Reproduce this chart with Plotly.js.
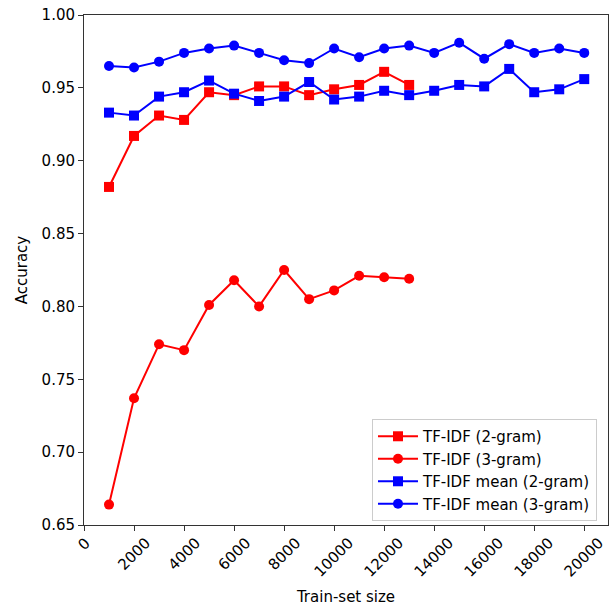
<!DOCTYPE html>
<html>
<head>
<meta charset="utf-8">
<script src="https://cdn.plot.ly/plotly-3.0.1.min.js"></script>
<style>html,body{margin:0;padding:0;background:#fff;}#chart{width:611px;height:606px;}</style>
</head>
<body>
<div id="chart"></div>
<script>
const trainSizes2 = [1000,2000,3000,4000,5000,6000,7000,8000,9000,10000,11000,12000,13000];
const tfidf2gram = [0.882,0.917,0.931,0.928,0.947,0.945,0.951,0.951,0.945,0.949,0.952,0.961,0.952];
const tfidf3gram = [0.664,0.737,0.774,0.770,0.801,0.818,0.800,0.825,0.805,0.811,0.821,0.820,0.819];
const trainSizesMean = [1000,2000,3000,4000,5000,6000,7000,8000,9000,10000,11000,12000,13000,14000,15000,16000,17000,18000,19000,20000];
const tfidfMean2gram = [0.933,0.931,0.944,0.947,0.955,0.946,0.941,0.944,0.954,0.942,0.944,0.948,0.945,0.948,0.952,0.951,0.963,0.947,0.949,0.956];
const tfidfMean3gram = [0.965,0.964,0.968,0.974,0.977,0.979,0.974,0.969,0.967,0.977,0.971,0.977,0.979,0.974,0.981,0.970,0.980,0.974,0.977,0.974];
const xTickVals = [0,2000,4000,6000,8000,10000,12000,14000,16000,18000,20000];
const xTickText = ['0','2000','4000','6000','8000','10000','12000','14000','16000','18000','20000'];
const seriesNames = ['TF-IDF (2-gram)','TF-IDF (3-gram)','TF-IDF mean (2-gram)','TF-IDF mean (3-gram)'];

const FONT = 'DejaVu Sans, sans-serif';
function tr(x, y, name, color, symbol) {
  return {x: x, y: y, name: name, type: 'scatter', mode: 'lines+markers',
    line: {color: color, width: 2}, marker: {color: color, symbol: symbol, size: 10}};
}
const data = [
  tr(trainSizes2, tfidf2gram, seriesNames[0], '#ff0000', 'square'),
  tr(trainSizes2, tfidf3gram, seriesNames[1], '#ff0000', 'circle'),
  tr(trainSizesMean, tfidfMean2gram, seriesNames[2], '#0000ff', 'square'),
  tr(trainSizesMean, tfidfMean3gram, seriesNames[3], '#0000ff', 'circle')
];
const annotations = xTickVals.map((v, i) => ({
  x: v, y: 0, xref: 'x', yref: 'paper', text: xTickText[i], showarrow: false,
  textangle: -45, xanchor: 'center', yanchor: 'top', yshift: -6,
  font: {family: FONT, size: 15, color: '#000'}
}));
const layout = {
  width: 611, height: 606,
  margin: {l: 84, r: 3, t: 15, b: 81},
  paper_bgcolor: '#fff', plot_bgcolor: '#fff',
  font: {family: FONT, size: 15, color: '#000'},
  showlegend: true,
  legend: {x: 0.5496, y: 0.2078, xanchor: 'left', yanchor: 'top', itemwidth: 40,
    bgcolor: 'rgba(255,255,255,0.8)', bordercolor: '#cccccc', borderwidth: 1,
    font: {family: FONT, size: 15, color: '#000'}},
  xaxis: {range: [0, 20950], tickvals: xTickVals, showticklabels: false,
    ticks: 'outside', ticklen: 5, tickcolor: '#333', tickwidth: 1,
    showline: true, linecolor: '#333', linewidth: 1, mirror: true,
    showgrid: false, zeroline: false,
    title: {text: 'Train-set size', standoff: 64, font: {family: FONT, size: 15}}},
  yaxis: {range: [0.65, 1.0], dtick: 0.05, tick0: 0.65, tickformat: '.2f',
    ticks: 'outside', ticklen: 5, tickcolor: '#333', tickwidth: 1,
    showline: true, linecolor: '#333', linewidth: 1, mirror: true,
    showgrid: false, zeroline: false,
    tickfont: {family: FONT, size: 15},
    title: {text: 'Accuracy', standoff: 10, font: {family: FONT, size: 15}}},
  annotations: annotations
};
Plotly.newPlot('chart', data, layout, {displayModeBar: false, staticPlot: true});
</script>
</body>
</html>
